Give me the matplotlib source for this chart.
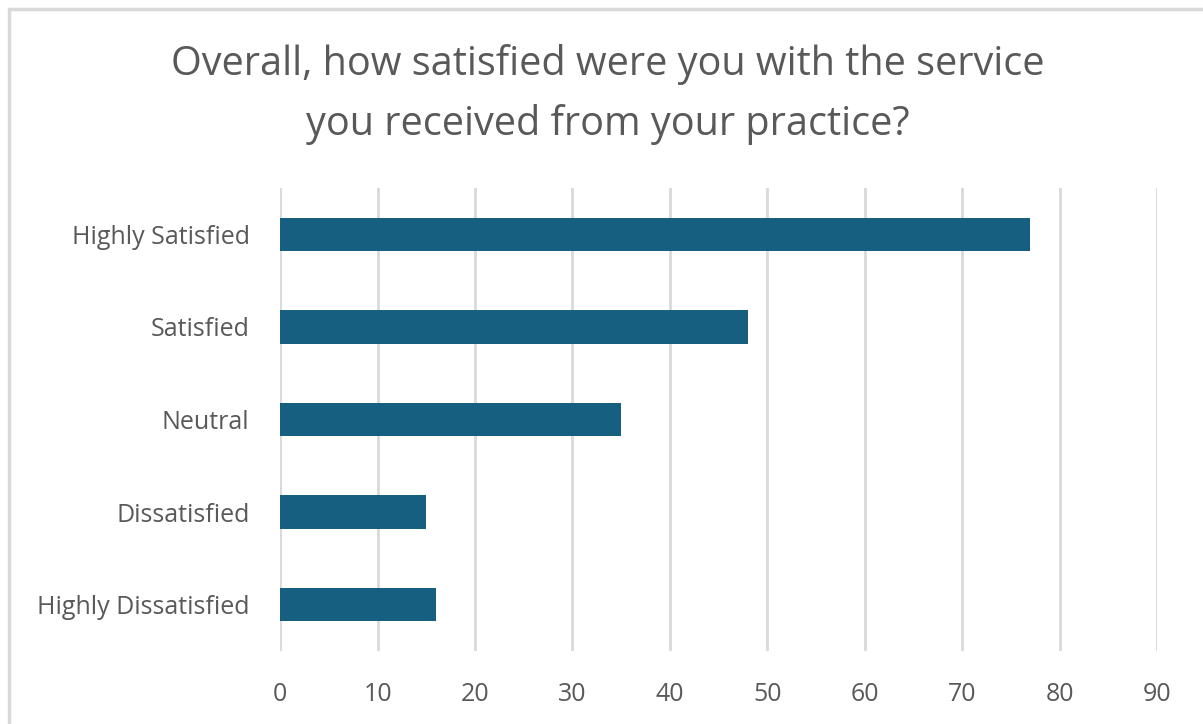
import matplotlib.pyplot as plt
from matplotlib.patches import Rectangle

categories = ["Highly Satisfied", "Satisfied", "Neutral", "Dissatisfied", "Highly Dissatisfied"]
responses = [77, 48, 35, 15, 16]
x_ticks = [0, 10, 20, 30, 40, 50, 60, 70, 80, 90]

plt.rcParams['font.family'] = ['Open Sans', 'DejaVu Sans']

fig = plt.figure(figsize=(12.03, 7.24), dpi=100)
ax = fig.add_axes([0.2328, 0.1008, 0.9618 - 0.2328, 0.7403 - 0.1008])

# chart frame (open to the right/bottom edge)
fig.patches.append(Rectangle((9 / 1203, -0.1), 1.2, 1 - 9 / 724 + 0.1,
                             transform=fig.transFigure, fill=False,
                             edgecolor='#d9d9d9', linewidth=2.5))

pos = list(range(len(categories)))
ax.barh(pos, responses, height=0.36, color='#175f80', zorder=3)

ax.set_ylim(len(categories) - 0.5, -0.5)
ax.set_xlim(0, 90)
ax.set_xticks(x_ticks)
ax.set_yticks(pos)
ax.set_yticklabels(categories)

ax.grid(axis='x', color='#d9d9d9', linewidth=2, zorder=0)
for s in ax.spines.values():
    s.set_visible(False)
ax.tick_params(axis='both', length=0, labelsize=18, labelcolor='#595959')
ax.tick_params(axis='x', pad=22)
ax.tick_params(axis='y', pad=22)

fig.text(0.505, 0.870, "Overall, how satisfied were you with the service\nyou received from your practice?",
         ha='center', va='center', fontsize=28.5, color='#595959', linespacing=1.62)

fig.savefig('out.png', dpi=100)
